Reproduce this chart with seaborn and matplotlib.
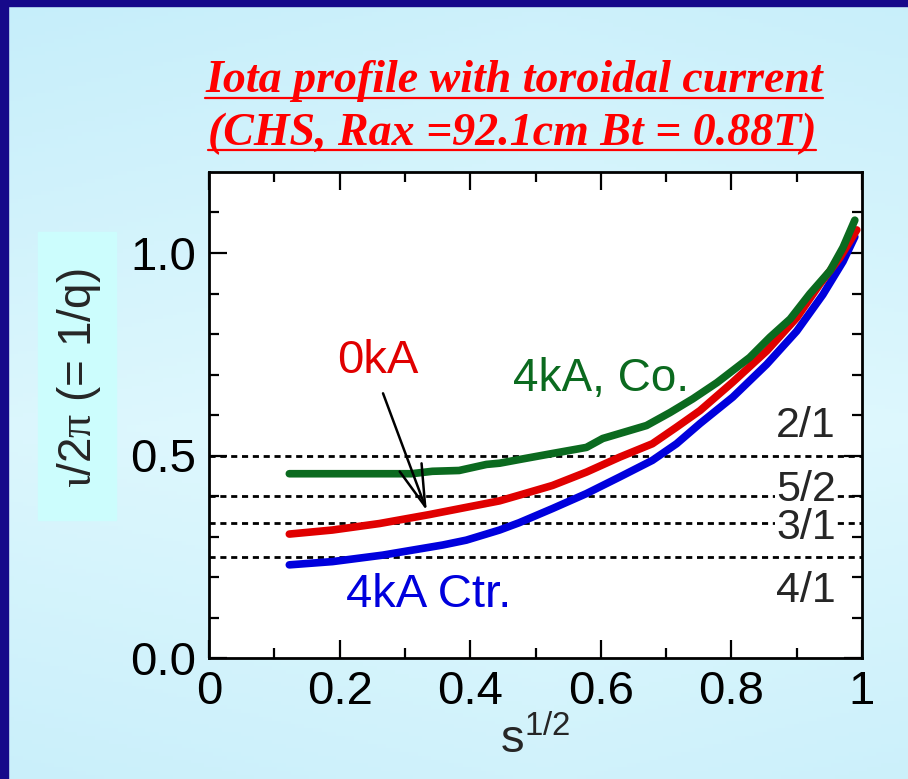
import numpy as np
import pandas as pd
import seaborn as sns
import matplotlib.pyplot as plt
from matplotlib.patches import Rectangle
from matplotlib.lines import Line2D

# data
s_co = [0.123, 0.20, 0.31, 0.342, 0.383, 0.425, 0.445, 0.475, 0.526, 0.578, 0.603,
        0.670, 0.706, 0.741, 0.778, 0.828, 0.859, 0.890, 0.920, 0.951, 0.971, 0.989]
iota_co = [0.455, 0.455, 0.455, 0.461, 0.463, 0.478, 0.481, 0.490, 0.505, 0.520, 0.542,
           0.574, 0.606, 0.640, 0.680, 0.742, 0.792, 0.837, 0.899, 0.956, 1.014, 1.081]

s_0ka = [0.123, 0.189, 0.261, 0.337, 0.394, 0.445, 0.475, 0.526, 0.578, 0.629,
         0.679, 0.716, 0.752, 0.802, 0.854, 0.900, 0.935, 0.966, 0.992]
iota_0ka = [0.306, 0.316, 0.332, 0.354, 0.372, 0.388, 0.402, 0.426, 0.459, 0.496,
            0.529, 0.570, 0.611, 0.681, 0.758, 0.840, 0.922, 0.988, 1.057]

s_ctr = [0.123, 0.189, 0.266, 0.358, 0.394, 0.445, 0.475, 0.526, 0.578, 0.629,
         0.679, 0.716, 0.752, 0.802, 0.854, 0.900, 0.940, 0.971, 0.989]
iota_ctr = [0.230, 0.238, 0.254, 0.279, 0.291, 0.316, 0.334, 0.369, 0.406, 0.447,
            0.488, 0.529, 0.579, 0.644, 0.725, 0.807, 0.897, 0.979, 1.040]

cases = ["4kA Ctr.", "0kA", "4kA, Co."]
colores = {"4kA Ctr.": "#0000dd", "0kA": "#e00000", "4kA, Co.": "#0b6a1f"}

rational_vals = [0.5, 0.4, 1 / 3, 0.25]
rational_labels = ["2/1", "5/2", "3/1", "4/1"]

df = pd.concat([
    pd.DataFrame({"s": s_ctr, "iota": iota_ctr, "case": "4kA Ctr."}),
    pd.DataFrame({"s": s_0ka, "iota": iota_0ka, "case": "0kA"}),
    pd.DataFrame({"s": s_co, "iota": iota_co, "case": "4kA, Co."}),
])

sns.set_style("ticks")
plt.rcParams["font.family"] = ["Liberation Sans", "DejaVu Sans"]
plt.rcParams["mathtext.fontset"] = "custom"
plt.rcParams["mathtext.rm"] = "Liberation Serif"

fig = plt.figure(figsize=(9.08, 7.79), dpi=100)

# fundo em gradiente + borda azul
bg = fig.add_axes([0, 0, 1, 1], zorder=-10)
yy = np.linspace(0, 1, 200)[:, None]
xx = np.linspace(0, 1, 200)[None, :]
grad = 1 - np.abs(yy - 0.55) * 1.4 - np.abs(xx - 0.6) * 0.4
bg.imshow(grad, cmap=sns.blend_palette(["#c6eefa", "#e2f9fe"], as_cmap=True),
          aspect="auto", extent=[0, 1, 0, 1], origin="upper")
bg.set_axis_off()
fig.add_artist(Rectangle((0, 0), 8 / 908, 1, transform=fig.transFigure,
                         color="#16098a", zorder=5))
fig.add_artist(Rectangle((0, 1 - 6 / 779), 1, 6 / 779, transform=fig.transFigure,
                         color="#16098a", zorder=5))

ax = fig.add_axes([209 / 908, 1 - 658 / 779, 653 / 908, 486 / 779])
ax.set_facecolor("white")

sns.lineplot(data=df, x="s", y="iota", hue="case", hue_order=cases,
             palette=colores, linewidth=5.5, sort=False, legend=False, ax=ax,
             zorder=3)

for v, lab in zip(rational_vals, rational_labels):
    ax.axhline(v, color="black", lw=2.0, linestyle=(0, (2.2, 1.7)), zorder=2)

# rotulos das superficies racionais
ax.text(0.914, 0.574, "2/1", ha="center", va="center", fontsize=31, zorder=4)
ax.text(0.914, 0.416, "5/2", ha="center", va="center", fontsize=31, zorder=4,
        bbox=dict(facecolor="white", edgecolor="none", pad=0.5))
ax.text(0.914, 0.322, "3/1", ha="center", va="center", fontsize=31, zorder=4,
        bbox=dict(facecolor="white", edgecolor="none", pad=0.5))
ax.text(0.914, 0.166, "4/1", ha="center", va="center", fontsize=31, zorder=4)

# rotulos das curvas
ax.text(0.258, 0.733, "0kA", color=colores["0kA"], ha="center", va="center", fontsize=34)
ax.text(0.600, 0.689, "4kA, Co.", color=colores["4kA, Co."], ha="center", va="center", fontsize=33)
ax.text(0.336, 0.156, "4kA Ctr.", color=colores["4kA Ctr."], ha="center", va="center", fontsize=34)

ax.annotate("", xy=(0.335, 0.357), xytext=(0.265, 0.66),
            arrowprops=dict(arrowstyle="->,head_length=1.0,head_width=0.28",
                            lw=1.8, color="black", mutation_scale=30), zorder=5)

ax.set_xlim(0, 1)
ax.set_ylim(0, 1.2)
ax.set_xticks([0, 0.2, 0.4, 0.6, 0.8, 1.0])
ax.set_xticklabels(["0", "0.2", "0.4", "0.6", "0.8", "1"])
ax.set_xticks(np.arange(0.1, 1.0, 0.2), minor=True)
ax.set_yticks([0, 0.5, 1.0])
ax.set_yticklabels(["0.0", "0.5", "1.0"])
ax.set_yticks([0.1, 0.2, 0.3, 0.4, 0.6, 0.7, 0.8, 0.9, 1.1], minor=True)
ax.tick_params(which="both", direction="in", top=True, right=True, width=1.6,
               colors="black", labelsize=34)
ax.tick_params(which="major", length=13, pad=9)
ax.tick_params(which="minor", length=7)
for sp in ax.spines.values():
    sp.set_linewidth(2)
    sp.set_color("black")

ax.set_xlabel(r"$\mathregular{s^{1/2}}$", fontsize=34, labelpad=2)
ax.set_ylabel("")

# rotulo do eixo y com caixa
fig.add_artist(Rectangle((38 / 908, 1 - 520 / 779), 78 / 908, 288 / 779,
                         transform=fig.transFigure, color="#ccfdfd", zorder=1))
fig.text(79 / 908, 1 - 378 / 779, r"$\mathrm{\iota}$/2$\mathrm{\pi}$ (= 1/q)",
         rotation=90, ha="center", va="center", fontsize=33, zorder=2)

# titulo sublinhado
t1 = fig.text(514 / 908, 1 - 92 / 779, "Iota profile with toroidal current",
              ha="center", va="baseline", fontsize=33, color="#ff0000",
              family="Liberation Serif", weight="bold", style="italic")
t2 = fig.text(512 / 908, 1 - 145 / 779, "(CHS, Rax =92.1cm Bt = 0.88T)",
              ha="center", va="baseline", fontsize=33, color="#ff0000",
              family="Liberation Serif", weight="bold", style="italic")
fig.canvas.draw()
for t, yline in [(t1, 97.5), (t2, 149.5)]:
    bb = t.get_window_extent().transformed(fig.transFigure.inverted())
    fig.add_artist(Line2D([bb.x0, bb.x1], [1 - yline / 779] * 2,
                          transform=fig.transFigure, color="#ff0000", lw=1.6))

fig.savefig("out.png", dpi=100)
